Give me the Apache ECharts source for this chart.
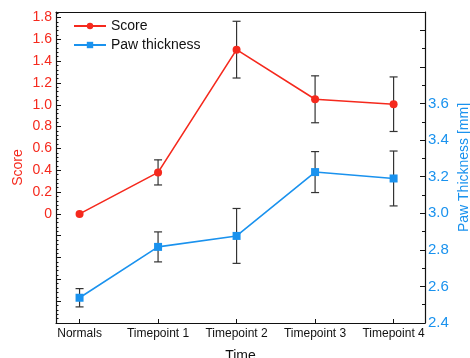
<!DOCTYPE html>
<html><head><meta charset="utf-8">
<script src="https://cdn.jsdelivr.net/npm/echarts@6/dist/echarts.min.js"></script>
<style>html,body{margin:0;padding:0;background:#fff}#c{width:470px;height:358px}</style>
</head><body><div id="c"></div>
<script>
const categories = ['Normals','Timepoint 1','Timepoint 2','Timepoint 3','Timepoint 4'];
const scoreMean = [0, 0.38, 1.505, 1.05, 1.005];
const scoreErr  = [0, 0.115, 0.26, 0.215, 0.25];
const pawMean = [2.538, 2.816, 2.876, 3.225, 3.19];
const pawErr  = [0.05, 0.082, 0.15, 0.112, 0.15];
const scoreTicks = [0, 0.2, 0.4, 0.6, 0.8, 1.0, 1.2, 1.4, 1.6, 1.8];
const pawTicks = [2.4, 2.6, 2.8, 3.0, 3.2, 3.4, 3.6];

const RED = '#f5291d', BLUE = '#1a92ee', FONT = 'Liberation Sans, Arial, sans-serif';
const xIdx = categories.map((c, i) => i);

function near(list, v){ return list.find(t => Math.abs(t - v) < 1e-6); }

function errSeries(mean, err, yAxisIndex){
  const data = mean.map((m, i) => [i, m - err[i], m + err[i], err[i]]).filter(d => d[3] > 0);
  return {
    type: 'custom', yAxisIndex, z: 1, silent: true,
    data,
    renderItem(params, api){
      const lo = api.coord([api.value(0), api.value(1)]);
      const hi = api.coord([api.value(0), api.value(2)]);
      const w = 4;
      const st = {stroke: '#333', lineWidth: 1.2};
      return {type: 'group', children: [
        {type: 'line', shape: {x1: lo[0], y1: lo[1], x2: hi[0], y2: hi[1]}, style: st},
        {type: 'line', shape: {x1: lo[0]-w, y1: lo[1], x2: lo[0]+w, y2: lo[1]}, style: st},
        {type: 'line', shape: {x1: hi[0]-w, y1: hi[1], x2: hi[0]+w, y2: hi[1]}, style: st}
      ]};
    }
  };
}

const chart = echarts.init(document.getElementById('c'), null, {renderer: 'canvas'});
chart.setOption({
  animation: false,
  textStyle: {fontFamily: FONT},
  grid: {left: 56, right: 45, top: 12, bottom: 35, outerBoundsMode: 'none', containLabel: false},
  legend: {
    orient: 'vertical', left: 73, top: 19, padding: 0, itemWidth: 32, itemHeight: 8, itemGap: 5,
    textStyle: {fontSize: 14, color: '#111', fontFamily: FONT},
    data: ['Score', 'Paw thickness']
  },
  xAxis: [{
    type: 'value', min: -0.3, max: 4.4, position: 'bottom',
    name: 'Time', nameLocation: 'middle', nameGap: 26, nameMoveOverlap: false,
    nameTextStyle: {fontSize: 14, color: '#111', fontFamily: FONT},
    axisLine: {onZero: false, lineStyle: {color: '#111', width: 1.2}},
    axisTick: {inside: true, length: 4, customValues: xIdx, lineStyle: {color: '#111'}},
    axisLabel: {customValues: xIdx, margin: 5, fontSize: 12, color: '#111', fontFamily: FONT,
      formatter: v => categories[Math.round(v)] || ''},
    splitLine: {show: false}
  }, {
    type: 'value', min: -0.3, max: 4.4, position: 'top',
    axisLine: {show: true, onZero: false, lineStyle: {color: '#111', width: 1.2}},
    axisTick: {show: false}, axisLabel: {show: false}, splitLine: {show: false}
  }],
  yAxis: [{
    type: 'value', min: -1.0, max: 1.85, interval: 0.2, position: 'left',
    name: 'Score', nameLocation: 'middle', nameGap: 31, nameMoveOverlap: false,
    nameTextStyle: {fontSize: 14, color: RED, fontFamily: FONT},
    axisLine: {show: true, onZero: false, lineStyle: {color: '#111', width: 1.2}},
    axisTick: {show: true, inside: true, length: 5, lineStyle: {color: '#111'}},
    minorTick: {show: true, splitNumber: 5, length: 2.5, lineStyle: {color: '#111'}},
    axisLabel: {margin: 4, fontSize: 14, color: RED, fontFamily: FONT, showMaxLabel: false,
      formatter: v => { const t = near(scoreTicks, v); return t === undefined ? '' : (t === 0 ? '0' : t.toFixed(1)); }},
    splitLine: {show: false}
  }, {
    type: 'value', min: 2.4, max: 4.1, interval: 0.2, position: 'right',
    name: 'Paw Thickness [mm]', nameLocation: 'middle', nameGap: 32, nameMoveOverlap: false,
    nameTextStyle: {fontSize: 14, color: BLUE, fontFamily: FONT},
    axisLine: {show: true, onZero: false, lineStyle: {color: '#111', width: 1.2}},
    axisTick: {show: true, inside: true, length: 5, lineStyle: {color: '#111'}},
    minorTick: {show: true, splitNumber: 2, length: 3, lineStyle: {color: '#111'}},
    axisLabel: {margin: 3, fontSize: 15, color: BLUE, fontFamily: FONT, showMaxLabel: false,
      formatter: v => { const t = near(pawTicks, v); return t === undefined ? '' : t.toFixed(1); }},
    splitLine: {show: false}
  }],
  series: [
    errSeries(scoreMean, scoreErr, 0),
    errSeries(pawMean, pawErr, 1),
    {name: 'Score', type: 'line', yAxisIndex: 0, z: 3,
     data: scoreMean.map((v, i) => [i, v]),
     symbol: 'circle', symbolSize: 8,
     lineStyle: {color: RED, width: 1.6}, itemStyle: {color: RED}},
    {name: 'Paw thickness', type: 'line', yAxisIndex: 1, z: 3,
     data: pawMean.map((v, i) => [i, v]),
     symbol: 'rect', symbolSize: 8,
     lineStyle: {color: BLUE, width: 1.6}, itemStyle: {color: BLUE}}
  ]
});
</script></body></html>
